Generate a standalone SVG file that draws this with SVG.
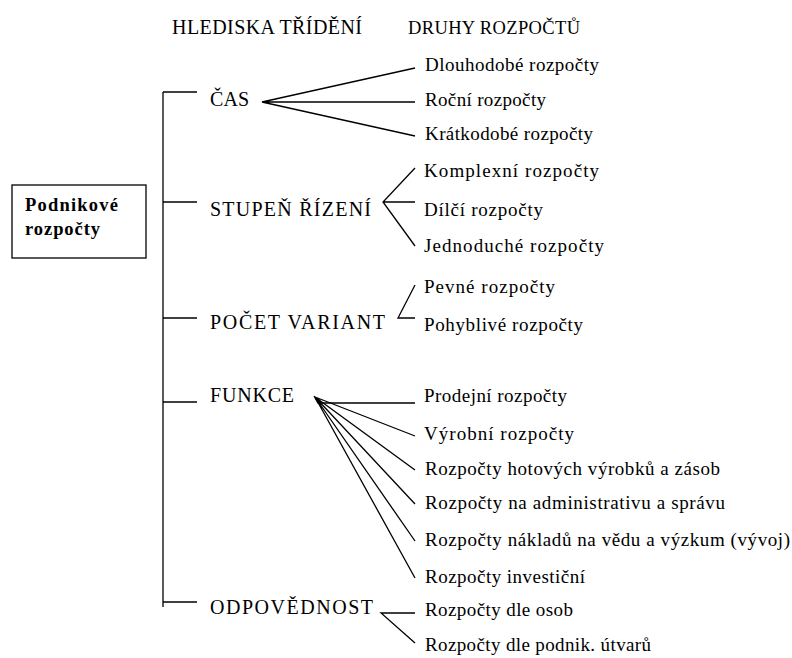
<svg xmlns="http://www.w3.org/2000/svg" width="792" height="658" viewBox="0 0 792 658">
<style>
text{font-family:"Liberation Serif","Times New Roman",serif;font-size:19px;fill:#000}
.c{font-size:20px}
.h{font-size:18.5px}
.b{font-weight:bold;font-size:18.5px}
.ln{stroke:#000;stroke-width:1.3;fill:none}
</style>
<rect width="792" height="658" fill="#fff"/>
<g id="headers">
<text class="c" x="172" y="34" textLength="190" lengthAdjust="spacing">HLEDISKA TŘÍDĚNÍ</text>
<text class="h" x="408" y="34" textLength="172" lengthAdjust="spacing">DRUHY ROZPOČTŮ</text>
</g>
<g id="root">
<rect x="12" y="185" width="134" height="73" fill="#fff" stroke="#000" stroke-width="1.3"/>
<text class="b" x="25" y="211" textLength="93" lengthAdjust="spacing">Podnikové</text>
<text class="b" x="25" y="235" textLength="75" lengthAdjust="spacing">rozpočty</text>
</g>
<g id="connectors" class="ln">
<line x1="163" y1="92" x2="163" y2="607"/>
<line x1="163" y1="92" x2="197" y2="92"/>
<line x1="163" y1="202" x2="197" y2="202"/>
<line x1="163" y1="318" x2="197" y2="318"/>
<line x1="163" y1="402" x2="197" y2="402"/>
<line x1="163" y1="602" x2="197" y2="602"/>
<path d="M415 68L262 102L415 136M262 102H415"/>
<path d="M415 168L383 202L415 246M383 202H415"/>
<path d="M415 285L398 318H415"/>
<path d="M314 396L318 403H415"/>
<path d="M315 397L415 436M315 397L415 470M315 397L415 504M315 397L415 541M315 397L415 578"/>
<path d="M415 613H381L415 643"/>
</g>
<g id="cas">
<text class="c" x="210" y="106" textLength="39" lengthAdjust="spacing">ČAS</text>
</g>
<g id="stupen">
<text class="c" x="210" y="216" textLength="161" lengthAdjust="spacing">STUPEŇ ŘÍZENÍ</text>
</g>
<g id="pocet">
<text class="c" x="210" y="329" textLength="175" lengthAdjust="spacing">POČET VARIANT</text>
</g>
<g id="funkce">
<text class="c" x="210" y="402" textLength="84" lengthAdjust="spacing">FUNKCE</text>
</g>
<g id="odpovednost">
<text class="c" x="210" y="614" textLength="163" lengthAdjust="spacing">ODPOVĚDNOST</text>
</g>
<g id="dlouhodobe"><text x="425" y="71" textLength="174" lengthAdjust="spacing">Dlouhodobé rozpočty</text></g>
<g id="rocni"><text x="425" y="106" textLength="121" lengthAdjust="spacing">Roční rozpočty</text></g>
<g id="kratkodobe"><text x="425" y="140" textLength="168" lengthAdjust="spacing">Krátkodobé rozpočty</text></g>
<g id="komplexni"><text x="424" y="177" textLength="175" lengthAdjust="spacing">Komplexní rozpočty</text></g>
<g id="dilci"><text x="424" y="216" textLength="119" lengthAdjust="spacing">Dílčí rozpočty</text></g>
<g id="jednoduche"><text x="424" y="252" textLength="180" lengthAdjust="spacing">Jednoduché rozpočty</text></g>
<g id="pevne"><text x="424" y="293" textLength="131" lengthAdjust="spacing">Pevné rozpočty</text></g>
<g id="pohyblive"><text x="424" y="331" textLength="159" lengthAdjust="spacing">Pohyblivé rozpočty</text></g>
<g id="prodejni"><text x="424" y="402" textLength="143" lengthAdjust="spacing">Prodejní rozpočty</text></g>
<g id="vyrobni"><text x="424" y="440" textLength="150" lengthAdjust="spacing">Výrobní rozpočty</text></g>
<g id="hotovych"><text x="425" y="475" textLength="295" lengthAdjust="spacing">Rozpočty hotových výrobků a zásob</text></g>
<g id="administrativa"><text x="425" y="509" textLength="300" lengthAdjust="spacing">Rozpočty na administrativu a správu</text></g>
<g id="vyzkum"><text x="425" y="546" textLength="365" lengthAdjust="spacing">Rozpočty nákladů na vědu a výzkum (vývoj)</text></g>
<g id="investicni"><text x="425" y="583" textLength="160" lengthAdjust="spacing">Rozpočty investiční</text></g>
<g id="osoby"><text x="425" y="616" textLength="148" lengthAdjust="spacing">Rozpočty dle osob</text></g>
<g id="utvary"><text x="425" y="651" textLength="226" lengthAdjust="spacing">Rozpočty dle podnik. útvarů</text></g>
</svg>
